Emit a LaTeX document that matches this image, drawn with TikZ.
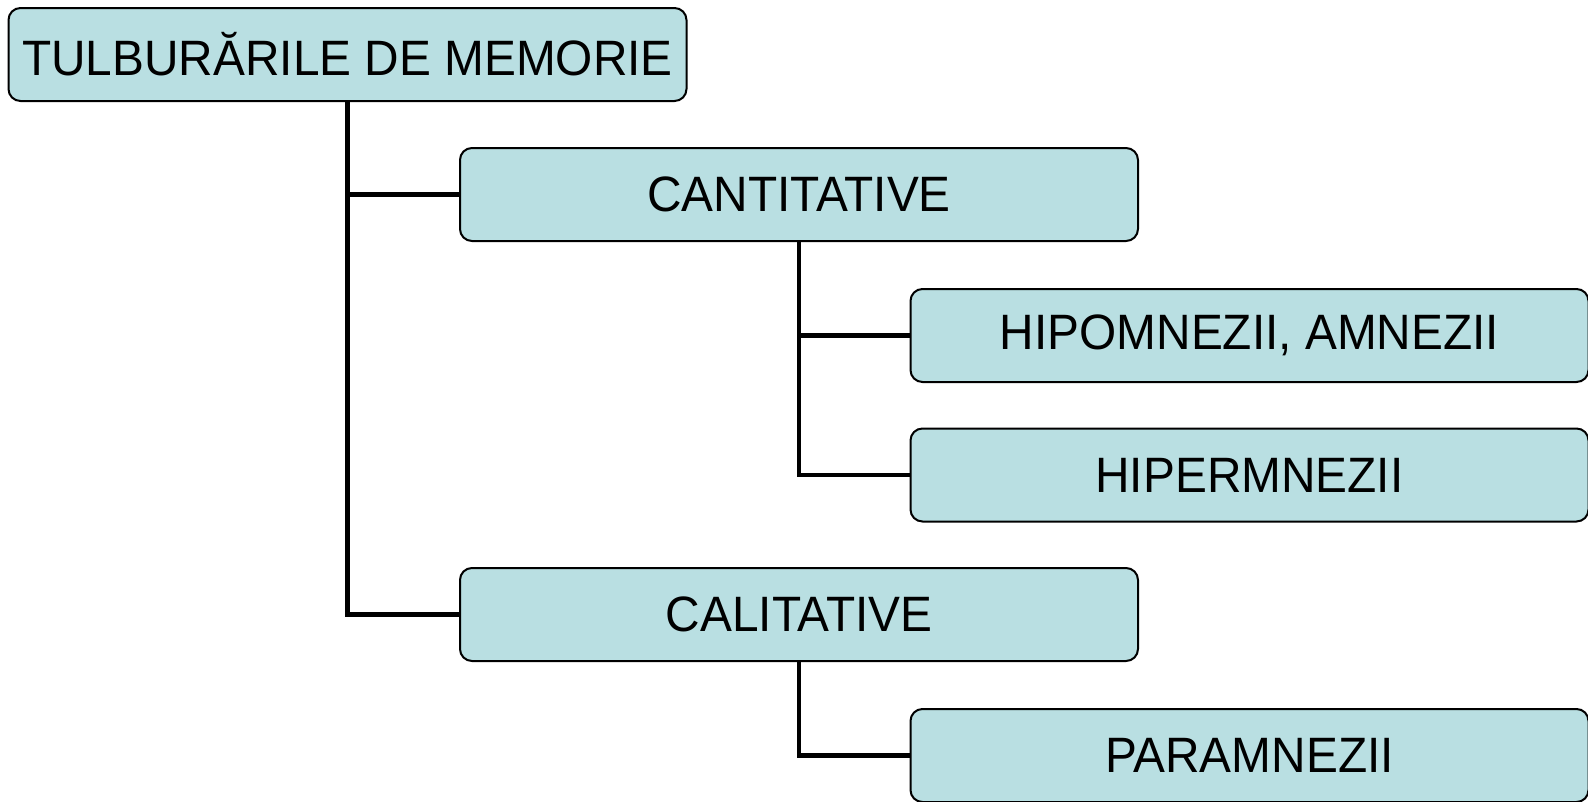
\documentclass[tikz,border=0pt]{standalone}
\usepackage{fontspec}
\setmainfont{Liberation Sans}
\definecolor{boxfill}{RGB}{185,223,226}
\begin{document}
\begin{tikzpicture}[x=1pt,y=-1pt,
  box/.style={draw=black, line width=2pt, fill=boxfill, rounded corners=12pt,
    minimum width=678pt, minimum height=93pt, inner sep=0pt,
    font=\fontsize{47.8}{50}\selectfont, text=black},
  link/.style={draw=black, line width=4.5pt}]
\useasboundingbox (0,0) rectangle (1588,801);
\node[box] (root) at (347.5,54.5) {\scalebox{1}[1.04]{TULBURĂRILE DE MEMORIE}};
\node[box] (cant) at (799,194.5) {\scalebox{1}[1.04]{CANTITATIVE}};
\node[box] (hipo) at (1249.5,335.5) {\scalebox{1}[1.04]{HIPOMNEZII, AMNEZII}};
\node[box] (hiper) at (1249.5,475) {\scalebox{1}[1.04]{HIPERMNEZII}};
\node[box] (cali) at (799,614.5) {\scalebox{1}[1.04]{CALITATIVE}};
\node[box] (para) at (1249.5,755.5) {\scalebox{1}[1.04]{PARAMNEZII}};
\draw[link] (root.south) |- (cant.west);
\draw[link] (root.south) |- (cali.west);
\draw[link] (cant.south) |- (hipo.west);
\draw[link] (cant.south) |- (hiper.west);
\draw[link] (cali.south) |- (para.west);
\end{tikzpicture}
\end{document}
